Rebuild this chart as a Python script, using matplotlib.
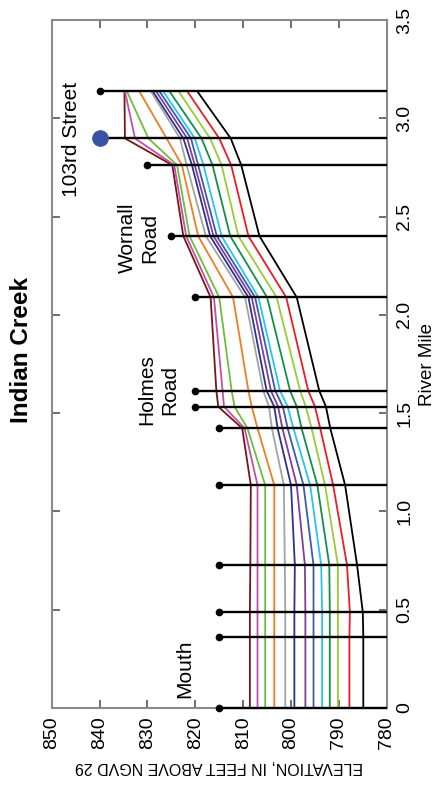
import matplotlib
matplotlib.use("Agg")
import matplotlib.pyplot as plt

plt.rcParams['font.family'] = ['Liberation Sans Narrow', 'Liberation Sans', 'DejaVu Sans']

# River-mile positions of cross sections
miles = [0, 0.363, 0.487, 0.727, 1.134, 1.423, 1.533, 1.614, 2.089, 2.401, 2.762, 2.898, 3.138]

# Water-surface profiles (elevation, ft) at each cross section
maroon = [808.6, 808.6, 808.6, 808.5, 808.4, 810.2, 815.2, 815.6, 816.8, 822.5, 824.8, 834.7, 834.8]
orchid = [807.0, 807.0, 807.0, 807.0, 807.0, 809.7, 814.0, 814.3, 816.1, 821.9, 824.4, 832.6, 834.7]
green = [805.4, 805.4, 805.4, 805.4, 805.4, 809.1, 811.8, 812.4, 815.0, 821.2, 823.8, 829.8, 834.3]
orange = [803.5, 803.5, 803.5, 803.5, 803.5, 807.0, 808.2, 808.9, 812.1, 819.4, 822.8, 826.0, 831.7]
gray = [801.2, 801.2, 801.2, 801.3, 801.5, 804.0, 804.6, 805.8, 809.6, 817.8, 821.8, 823.2, 829.3]
navy = [799.3, 799.3, 799.3, 799.2, 800.0, 802.8, 803.5, 805.1, 808.9, 816.9, 820.7, 822.5, 828.9]
purple = [797.0, 797.0, 797.0, 797.1, 798.8, 801.8, 802.7, 804.2, 808.2, 816.2, 820.1, 821.7, 828.2]
blue = [795.3, 795.3, 795.3, 795.3, 797.4, 800.7, 801.7, 803.3, 807.5, 815.5, 819.4, 820.9, 827.5]
cyan = [793.5, 793.5, 793.5, 793.7, 796.0, 799.5, 800.7, 802.3, 806.8, 814.5, 818.3, 820.1, 826.7]
dkgreen = [791.9, 791.9, 791.9, 792.0, 794.5, 797.8, 798.8, 800.2, 805.0, 812.7, 816.4, 818.7, 825.4]
ygreen = [790.2, 790.2, 790.2, 790.2, 792.9, 795.7, 796.9, 798.1, 803.0, 811.0, 814.5, 816.9, 823.5]
red = [787.8, 787.8, 787.7, 788.3, 791.2, 793.9, 795.0, 796.4, 801.0, 808.9, 812.5, 815.0, 821.7]
black = [784.9, 784.9, 785.0, 786.2, 788.7, 791.8, 792.7, 794.1, 798.8, 806.6, 810.4, 812.6, 819.6]

profiles = [maroon, orchid, green, orange, gray, navy, purple, blue, cyan, dkgreen, ygreen, red, black]
colors = ['#7b1416', '#c050a8', '#6cbf3c', '#f27c21', '#a3a3a3', '#2e3192', '#7f3f98',
          '#3b5bab', '#27c4f4', '#138f4a', '#99cc33', '#ed1c24', '#000000']

# Cross-section marker elevations (start of each section line)
section_top = [815, 815, 815, 815, 815, 815, 820, 820, 820, 825, 830, 840, 840]

# Axis ticks
elev_ticks = [850, 840, 830, 820, 810, 800, 790, 780]
mile_ticks = [0, 0.5, 1.0, 1.5, 2.0, 2.5, 3.0, 3.5]
mile_labels = ['0', '0.5', '1.0', '1.5', '2.0', '2.5', '3.0', '3.5']

fig = plt.figure(figsize=(4.37, 7.85), dpi=100)
ax = fig.add_axes([0.1183, 0.0981, 0.7667, 0.8764])

for prof, c in zip(profiles, colors):
    ax.plot(prof, miles, color=c, lw=1.3, zorder=2, solid_joinstyle='round')

ax.hlines(miles, section_top, 780, color='black', lw=1.7, zorder=3, clip_on=False)
small = [i for i in range(len(miles)) if i != 11]
ax.plot([section_top[i] for i in small], [miles[i] for i in small], 'o', color='black',
        ms=4.5, zorder=4, clip_on=False)
ax.plot([section_top[11]], [miles[11]], 'o', color='#3953a4', ms=11, zorder=5)

ax.set_xlim(850, 780)
ax.set_ylim(0, 3.5)
ax.set_xticks(elev_ticks)
ax.set_xticklabels([str(t) for t in elev_ticks])
ax.set_yticks(mile_ticks)
ax.set_yticklabels(mile_labels)
ax.yaxis.tick_right()
ax.yaxis.set_label_position('right')
ax.tick_params(axis='both', direction='in', length=6, width=1.2, color='#555555',
               labelsize=14, top=True, bottom=True, left=True, right=True)
ax.tick_params(axis='x', labelrotation=90, pad=6)
ax.tick_params(axis='y', labelrotation=90, pad=7)
for lab in ax.get_yticklabels():
    lab.set_va('center')
for s in ax.spines.values():
    s.set_color('#8a8a8a')
    s.set_linewidth(1.5)

ax.set_xlabel('ELEVATION, IN FEET ABOVE NGVD 29', rotation=180, fontsize=11.5, labelpad=7)
ax.set_ylabel('River Mile', rotation=90, fontsize=13.5, labelpad=4)

fs = 15
ax.text(822.1, 0.20, 'Mouth', rotation=90, fontsize=fs, ha='center', va='center')
ax.text(827.8, 1.62, 'Holmes\nRoad', rotation=90, fontsize=fs, ha='center', va='center',
        multialignment='center', linespacing=1.25)
ax.text(831.8, 2.39, 'Wornall\nRoad', rotation=90, fontsize=fs, ha='center', va='center',
        multialignment='center', linespacing=1.25)
ax.text(845.8, 2.89, '103rd Street', rotation=90, fontsize=fs, ha='center', va='center')

fig.text(0.05, 0.554, 'Indian Creek', rotation=90, fontsize=17.5, fontweight='bold',
         ha='center', va='center')

fig.savefig('out.png', dpi=100)
